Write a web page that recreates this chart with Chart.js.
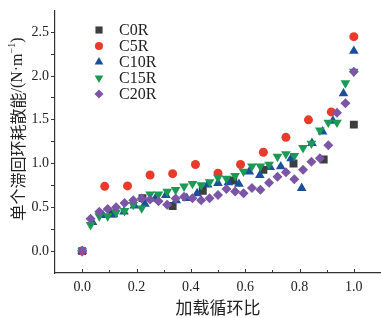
<!DOCTYPE html>
<html>
<head>
<meta charset="utf-8">
<script src="https://cdn.jsdelivr.net/npm/chart.js@4"></script>
<style>
  html, body { margin: 0; padding: 0; background: #fff; }
  #wrap { width: 381px; height: 318px; }
</style>
</head>
<body>
<div id="wrap"><canvas id="c"></canvas></div>
<script>
// 数据：加载循环比 / 单个滞回环耗散能
const xC0R = [0, 0.111, 0.222, 0.333, 0.444, 0.556, 0.667, 0.778, 0.889, 1.0];
const yC0R = [0, 0.43, 0.605, 0.515, 0.69, 0.806, 0.928, 1.0, 1.046, 1.445];

const xC5R = [0, 0.083, 0.167, 0.25, 0.333, 0.417, 0.5, 0.583, 0.667, 0.75, 0.833, 0.917, 1.0];
const yC5R = [0, 0.74, 0.745, 0.87, 0.885, 0.99, 0.89, 0.99, 1.13, 1.30, 1.50, 1.59, 2.45];

const xC10R = [0, 0.038, 0.077, 0.115, 0.154, 0.192, 0.231, 0.269, 0.308, 0.346, 0.385, 0.423, 0.462,
               0.5, 0.538, 0.577, 0.615, 0.654, 0.692, 0.731, 0.769, 0.808, 0.846, 0.885, 0.923, 0.962, 1.0];
const yC10R = [0, 0.33, 0.41, 0.42, 0.45, 0.52, 0.54, 0.60, 0.64, 0.58, 0.605, 0.66, 0.76,
               0.776, 0.785, 0.767, 0.907, 0.867, 0.96, 0.966, 1.06, 0.72, 1.233, 1.365, 1.487, 1.80, 2.286];

const xC15R = [0, 0.031, 0.063, 0.094, 0.125, 0.156, 0.188, 0.219, 0.25, 0.281, 0.313, 0.344, 0.375,
               0.406, 0.438, 0.469, 0.5, 0.531, 0.563, 0.594, 0.625, 0.656, 0.688, 0.719, 0.75, 0.781,
               0.813, 0.844, 0.875, 0.906, 0.938, 0.969, 1.0];
const yC15R = [0, 0.30, 0.40, 0.40, 0.44, 0.46, 0.53, 0.49, 0.65, 0.65, 0.68, 0.70, 0.74,
               0.77, 0.755, 0.79, 0.84, 0.83, 0.86, 0.91, 0.97, 0.97, 0.99, 1.08, 1.11, 1.09,
               1.18, 1.23, 1.38, 1.47, 1.47, 1.92, 2.05];

const xC20R = xC15R;
const yC20R = [0, 0.37, 0.45, 0.48, 0.50, 0.55, 0.58, 0.60, 0.59, 0.57, 0.53, 0.60, 0.62,
               0.605, 0.58, 0.605, 0.64, 0.71, 0.68, 0.66, 0.72, 0.70, 0.78, 0.85, 0.90, 0.82,
               0.93, 1.02, 1.06, 1.21, 1.58, 1.69, 2.05];

const seriesNames = ['C0R', 'C5R', 'C10R', 'C15R', 'C20R'];
const xTicks = [0, 0.1, 0.2, 0.3, 0.4, 0.5, 0.6, 0.7, 0.8, 0.9, 1.0];
const xLabels = ['0.0', '', '0.2', '', '0.4', '', '0.6', '', '0.8', '', '1.0'];
const yTicks = [0, 0.25, 0.5, 0.75, 1.0, 1.25, 1.5, 1.75, 2.0, 2.25, 2.5];
const yLabels = ['0.0', '', '0.5', '', '1.0', '', '1.5', '', '2.0', '', '2.5'];

const SERIF = '"Liberation Serif", "DejaVu Serif", serif';
const CJK = '"Noto Sans CJK SC", sans-serif';
const TXT = '#222';

const pts = (xs, ys) => xs.map((x, i) => ({ x, y: ys[i] }));

// 样式（按顺序：C0R … C20R，后画的在上面）
const styles = [
  { color: '#3b3d3f', pointStyle: 'rect',     radius: 5.6, rotation: 0 },
  { color: '#ea3a2c', pointStyle: 'circle',   radius: 4.5, rotation: 0 },
  { color: '#1b4f9c', pointStyle: 'triangle', radius: 5.6, rotation: 0 },
  { color: '#1a9a55', pointStyle: 'triangle', radius: 5.6, rotation: 180 },
  { color: '#7b55a6', pointStyle: 'rectRot',  radius: 5.0, rotation: 0 }
];
const data = [pts(xC0R, yC0R), pts(xC5R, yC5R), pts(xC10R, yC10R), pts(xC15R, yC15R), pts(xC20R, yC20R)];

const datasets = seriesNames.map((name, i) => ({
  label: name,
  data: data[i],
  order: seriesNames.length - i,
  backgroundColor: styles[i].color,
  borderColor: styles[i].color,
  borderWidth: 0,
  pointStyle: styles[i].pointStyle,
  pointRadius: styles[i].radius,
  pointRotation: styles[i].rotation,
  showLine: false
}));

/** 图例 + x 轴内向刻度 + 纵轴标题 */
const decor = {
  id: 'decor',
  afterDraw(chart) {
    const { ctx, chartArea, scales: { x } } = chart;
    ctx.save();
    ctx.strokeStyle = '#333';
    ctx.lineWidth = 1;
    xTicks.forEach((v, i) => {
      const px = Math.round(x.getPixelForValue(v)) + 0.5;
      const len = xLabels[i] ? 4 : 3;
      ctx.beginPath();
      ctx.moveTo(px, chartArea.bottom);
      ctx.lineTo(px, chartArea.bottom - len);
      ctx.stroke();
    });

    // 图例
    const lx = 99, ly0 = 30, step = 16;
    datasets.forEach((ds, i) => {
      const cy = ly0 + i * step;
      ctx.fillStyle = ds.backgroundColor;
      Chart.helpers.drawPoint(ctx, {
        pointStyle: ds.pointStyle, rotation: ds.pointRotation,
        radius: ds.pointRadius * 0.9, borderWidth: 0
      }, lx, cy);
      ctx.fillStyle = TXT;
      ctx.font = '16px ' + SERIF;
      ctx.textAlign = 'left';
      ctx.textBaseline = 'middle';
      ctx.fillText(ds.label, 119, cy + 1);
    });

    // 纵轴标题：中文 + 西文单位分段绘制
    const parts = [
      { t: '单个滞回环耗散能', f: '16px ' + CJK, dy: 0 },
      { t: '/(N·m', f: '16px ' + SERIF, dy: 0 },
      { t: '−1', f: '10px ' + SERIF, dy: -6 },
      { t: ')', f: '16px ' + SERIF, dy: 0 }
    ];
    let total = 0;
    parts.forEach(p => { ctx.font = p.f; p.w = ctx.measureText(p.t).width; total += p.w; });
    ctx.translate(18, 129);
    ctx.rotate(-Math.PI / 2);
    ctx.fillStyle = TXT;
    ctx.textAlign = 'left';
    ctx.textBaseline = 'middle';
    let cx = -total / 2;
    parts.forEach(p => { ctx.font = p.f; ctx.fillText(p.t, cx, p.dy); cx += p.w; });
    ctx.restore();
  }
};

new Chart(document.getElementById('c'), {
  type: 'scatter',
  data: { datasets },
  options: {
    responsive: true,
    maintainAspectRatio: false,
    animation: false,
    layout: { autoPadding: false, padding: { top: 10, right: 0, left: 0, bottom: 0 } },
    plugins: { legend: { display: false }, tooltip: { enabled: false } },
    scales: {
      x: {
        type: 'linear', min: -0.1, max: 1.1,
        afterBuildTicks: s => { s.ticks = xTicks.map(v => ({ value: v })); },
        afterFit: s => { s.height = 45; },
        grid: { display: false, drawTicks: false },
        border: { display: true, color: '#333', width: 1.2 },
        ticks: {
          autoSkip: false, maxRotation: 0, padding: 6, color: TXT,
          font: { family: SERIF, size: 14 },
          callback: (v, i) => xLabels[i]
        },
        title: {
          display: true, text: '加载循环比', color: TXT,
          font: { family: CJK, size: 17 }, padding: { top: 2, bottom: 0 }
        }
      },
      y: {
        type: 'linear', min: -0.25, max: 2.75,
        afterBuildTicks: s => { s.ticks = yTicks.map(v => ({ value: v })); },
        afterFit: s => { s.width = 55; },
        grid: { display: true, drawOnChartArea: false, drawTicks: true, tickLength: 4, color: '#333' },
        border: { display: true, color: '#333', width: 1.2 },
        ticks: {
          autoSkip: false, padding: 2, color: TXT,
          font: { family: SERIF, size: 14 },
          callback: (v, i) => yLabels[i]
        }
      }
    }
  },
  plugins: [decor]
});
</script>
</body>
</html>
